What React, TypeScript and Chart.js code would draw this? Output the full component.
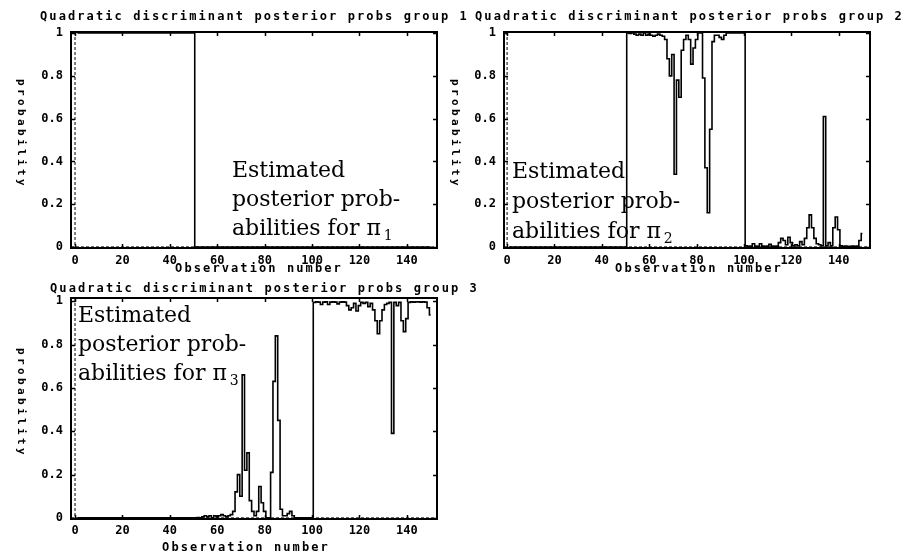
import { useEffect, useRef } from "react";
import { Chart, registerables } from "chart.js";

Chart.register(...registerables);

const group1 = [
  1, 1, 1, 1, 1, 1, 1, 1, 1, 1,
  1, 1, 1, 1, 1, 1, 1, 1, 1, 1,
  1, 1, 1, 1, 1, 1, 1, 1, 1, 1,
  1, 1, 1, 1, 1, 1, 1, 1, 1, 1,
  1, 1, 1, 1, 1, 1, 1, 1, 1, 1,
  0, 0, 0, 0, 0, 0, 0, 0, 0, 0,
  0, 0, 0, 0, 0, 0, 0, 0, 0, 0,
  0, 0, 0, 0, 0, 0, 0, 0, 0, 0,
  0, 0, 0, 0, 0, 0, 0, 0, 0, 0,
  0, 0, 0, 0, 0, 0, 0, 0, 0, 0,
  0, 0, 0, 0, 0, 0, 0, 0, 0, 0,
  0, 0, 0, 0, 0, 0, 0, 0, 0, 0,
  0, 0, 0, 0, 0, 0, 0, 0, 0, 0,
  0, 0, 0, 0, 0, 0, 0, 0, 0, 0,
  0, 0, 0, 0, 0, 0, 0, 0, 0, 0,
];

const group2 = [
  0, 0, 0, 0, 0, 0, 0, 0, 0, 0,
  0, 0, 0, 0, 0, 0, 0, 0, 0, 0,
  0, 0, 0, 0, 0, 0, 0, 0, 0, 0,
  0, 0, 0, 0, 0, 0, 0, 0, 0, 0,
  0, 0, 0, 0, 0, 0, 0, 0, 0, 0,
  1, 0.998, 1, 0.995, 0.99, 0.995, 0.99, 1, 0.99, 0.995,
  0.99, 0.985, 0.99, 0.995, 0.99, 0.985, 0.97, 0.88, 0.8, 0.9,
  0.34, 0.78, 0.7, 0.92, 0.97, 0.99, 0.97, 0.855, 0.93, 0.97,
  1, 1, 0.79, 0.37, 0.16, 0.55, 0.96, 0.99, 0.99, 0.98,
  0.97, 0.99, 1, 1, 1, 1, 1, 1, 1, 1,
  0.005, 0.003, 0.004, 0.015, 0.004, 0.003, 0.015, 0.004, 0.003, 0.004,
  0.012, 0.004, 0.003, 0.004, 0.02, 0.04, 0.03, 0.01, 0.045, 0.02,
  0.005, 0.01, 0.005, 0.025, 0.01, 0.04, 0.09, 0.15, 0.09, 0.04,
  0.015, 0.01, 0.005, 0.61, 0.005, 0.02, 0.005, 0.09, 0.14, 0.08,
  0.005, 0.003, 0.004, 0.003, 0.003, 0.004, 0.003, 0.004, 0.03, 0.063,
];

const group3 = [
  0, 0, 0, 0, 0, 0, 0, 0, 0, 0,
  0, 0, 0, 0, 0, 0, 0, 0, 0, 0,
  0, 0, 0, 0, 0, 0, 0, 0, 0, 0,
  0, 0, 0, 0, 0, 0, 0, 0, 0, 0,
  0, 0, 0, 0, 0, 0, 0, 0, 0, 0,
  0, 0.002, 0, 0.005, 0.01, 0.005, 0.01, 0, 0.01, 0.005,
  0.01, 0.015, 0.01, 0.005, 0.01, 0.015, 0.03, 0.12, 0.2, 0.1,
  0.66, 0.22, 0.3, 0.08, 0.03, 0.01, 0.03, 0.145, 0.07, 0.03,
  0, 0, 0.21, 0.63, 0.84, 0.45, 0.04, 0.01, 0.01, 0.02,
  0.03, 0.01, 0, 0, 0, 0, 0, 0, 0, 0,
  0.995, 0.997, 0.996, 0.985, 0.996, 0.997, 0.985, 0.996, 0.997, 0.996,
  0.988, 0.996, 0.997, 0.996, 0.98, 0.96, 0.97, 0.99, 0.955, 0.98,
  0.995, 0.99, 0.995, 0.975, 0.99, 0.96, 0.91, 0.85, 0.91, 0.96,
  0.985, 0.99, 0.995, 0.39, 0.995, 0.98, 0.995, 0.91, 0.86, 0.92,
  0.995, 0.997, 0.996, 0.997, 0.997, 0.996, 0.997, 0.996, 0.97, 0.937,
];

const xTicks = [0, 20, 40, 60, 80, 100, 120, 140];
const yTicks = [0, 0.2, 0.4, 0.6, 0.8, 1];

const titles = [
  "Quadratic discriminant posterior probs group 1",
  "Quadratic discriminant posterior probs group 2",
  "Quadratic discriminant posterior probs group 3",
];
const xAxisTitle = "Observation number";
const yAxisTitle = "probability";
const noteLines = ["Estimated", "posterior prob-", "abilities for \u03c0"];
const noteSubscripts = ["1", "2", "3"];

const seriesList = [group1, group2, group3];
const observations = group1.map((_, i) => i + 1);

// layout (positions only)
const W = 917;
const H = 554;
const Y_W = 40;
const X_H = 30;

const panels = [
  {
    area: { left: 71, top: 32, right: 437, bottom: 248 },
    xMin: -1.7, xMax: 152.7, yMin: -0.005, yMax: 1.005,
    xTickPad: 6,
    title: { x: 40, y: 20 },
    ylab: { x: 21, y: 134 },
    xlab: { x: 259, y: 272 },
    note: { x: 232, ys: [177, 206, 235] },
  },
  {
    area: { left: 504, top: 32, right: 870, bottom: 248 },
    xMin: -1.3, xMax: 153.2, yMin: -0.005, yMax: 1.005,
    xTickPad: 6,
    title: { x: 475, y: 20 },
    ylab: { x: 455, y: 134 },
    xlab: { x: 699, y: 272 },
    note: { x: 512, ys: [178, 208, 238] },
  },
  {
    area: { left: 71, top: 298, right: 437, bottom: 519 },
    xMin: -1.7, xMax: 152.7, yMin: -0.005, yMax: 1.015,
    xTickPad: 5,
    title: { x: 50, y: 292 },
    ylab: { x: 21, y: 403 },
    xlab: { x: 246, y: 551 },
    note: { x: 78, ys: [322, 351, 380] },
  },
];

const MONO = '"DejaVu Sans Mono", "Liberation Mono", monospace';
const SERIF = '"DejaVu Serif", "Liberation Serif", serif';

const panelPlugin = {
  id: "panelDecor",
  beforeDatasetsDraw(chart: any) {
    const { ctx, chartArea: a, scales } = chart;
    const x0 = scales.x.getPixelForValue(0);
    const y0 = scales.y.getPixelForValue(0);
    ctx.save();
    ctx.strokeStyle = "#000";
    ctx.lineWidth = 1;
    ctx.setLineDash([3, 2]);
    ctx.beginPath();
    ctx.moveTo(x0, a.top);
    ctx.lineTo(x0, a.bottom);
    ctx.moveTo(a.left, y0);
    ctx.lineTo(a.right, y0);
    ctx.stroke();
    ctx.restore();
  },
  afterDatasetsDraw(chart: any) {
    const { ctx, chartArea: a, scales } = chart;
    ctx.save();
    ctx.strokeStyle = "#000";
    ctx.lineWidth = 2;
    ctx.setLineDash([]);
    ctx.strokeRect(a.left, a.top, a.right - a.left, a.bottom - a.top);
    ctx.lineWidth = 1.5;
    const tl = 4;
    ctx.beginPath();
    xTicks.forEach((v) => {
      const px = Math.round(scales.x.getPixelForValue(v)) + 0.5;
      ctx.moveTo(px, a.bottom);
      ctx.lineTo(px, a.bottom - tl);
      ctx.moveTo(px, a.top);
      ctx.lineTo(px, a.top + tl);
    });
    yTicks.forEach((v) => {
      const py = Math.round(scales.y.getPixelForValue(v)) + 0.5;
      ctx.moveTo(a.left, py);
      ctx.lineTo(a.left + tl, py);
      ctx.moveTo(a.right, py);
      ctx.lineTo(a.right - tl, py);
    });
    ctx.stroke();
    ctx.restore();
  },
  afterDraw(chart: any, _args: any, opts: any) {
    const { ctx } = chart;
    const p = opts.panel;
    const idx = opts.index;
    ctx.save();
    ctx.fillStyle = "#000";
    // title
    ctx.font = `bold 12px ${MONO}`;
    (ctx as any).letterSpacing = "2.1px";
    ctx.textAlign = "left";
    ctx.textBaseline = "alphabetic";
    ctx.fillText(titles[idx], p.title.x, p.title.y);
    // x axis title
    ctx.textAlign = "center";
    ctx.fillText(xAxisTitle, p.xlab.x, p.xlab.y);
    // y axis title (reads top to bottom)
    ctx.save();
    (ctx as any).letterSpacing = "3.4px";
    ctx.font = `bold 11px ${MONO}`;
    ctx.translate(p.ylab.x, p.ylab.y);
    ctx.rotate(Math.PI / 2);
    ctx.textAlign = "center";
    ctx.textBaseline = "middle";
    ctx.fillText(yAxisTitle, 0, 0);
    ctx.restore();
    // annotation
    (ctx as any).letterSpacing = "0px";
    ctx.font = `22px ${SERIF}`;
    ctx.textAlign = "left";
    ctx.textBaseline = "alphabetic";
    noteLines.forEach((line, i) => {
      ctx.fillText(line, p.note.x, p.note.ys[i]);
    });
    const lastW = ctx.measureText(noteLines[2]).width;
    ctx.font = `14px ${SERIF}`;
    ctx.fillText(noteSubscripts[idx], p.note.x + lastW + 3, p.note.ys[2] + 5);
    ctx.restore();
  },
};

function makeConfig(p: any, idx: number): any {
  const values = seriesList[idx];
  return {
    type: "line",
    data: {
      datasets: [
        {
          data: values.map((v, i) => ({ x: observations[i], y: v })),
          borderColor: "#000",
          borderWidth: 1.6,
          pointRadius: 0,
          stepped: "middle",
          fill: false,
        },
      ],
    },
    options: {
      animation: false,
      responsive: false,
      devicePixelRatio: 1,
      events: [],
      layout: {
        padding: {
          left: p.area.left - Y_W,
          top: p.area.top,
          right: W - p.area.right,
          bottom: H - p.area.bottom - X_H,
        },
      },
      plugins: {
        legend: { display: false },
        tooltip: { enabled: false },
        title: { display: false },
        panelDecor: { panel: p, index: idx },
      },
      scales: {
        x: {
          type: "linear",
          min: p.xMin,
          max: p.xMax,
          grid: { display: false, drawTicks: false },
          border: { display: false },
          afterBuildTicks: (s: any) => {
            s.ticks = xTicks.map((v) => ({ value: v }));
          },
          afterFit: (s: any) => {
            s.height = X_H;
          },
          ticks: {
            padding: p.xTickPad,
            maxRotation: 0,
            autoSkip: false,
            color: "#000",
            font: { family: MONO, size: 12, weight: "bold" },
            callback: (v: any) => String(v),
          },
        },
        y: {
          type: "linear",
          min: p.yMin,
          max: p.yMax,
          grid: { display: false, drawTicks: false },
          border: { display: false },
          afterBuildTicks: (s: any) => {
            s.ticks = yTicks.map((v) => ({ value: v }));
          },
          afterFit: (s: any) => {
            s.width = Y_W;
          },
          ticks: {
            padding: 8,
            autoSkip: false,
            color: "#000",
            font: { family: MONO, size: 12, weight: "bold" },
            callback: (v: any) => String(v),
          },
        },
      },
    },
    plugins: [panelPlugin],
  };
}

export default function App() {
  const r0 = useRef<HTMLCanvasElement>(null);
  const r1 = useRef<HTMLCanvasElement>(null);
  const r2 = useRef<HTMLCanvasElement>(null);
  const refs = [r0, r1, r2];

  useEffect(() => {
    const charts = panels.map(
      (p, i) => new Chart(refs[i].current as HTMLCanvasElement, makeConfig(p, i))
    );
    return () => charts.forEach((c) => c.destroy());
  }, []);

  return (
    <div
      style={{
        position: "absolute",
        left: 0,
        top: 0,
        width: W,
        height: H,
        background: "#fff",
      }}
    >
      {refs.map((r, i) => (
        <canvas
          key={i}
          ref={r}
          width={W}
          height={H}
          style={{ position: "absolute", left: 0, top: 0 }}
        />
      ))}
    </div>
  );
}
